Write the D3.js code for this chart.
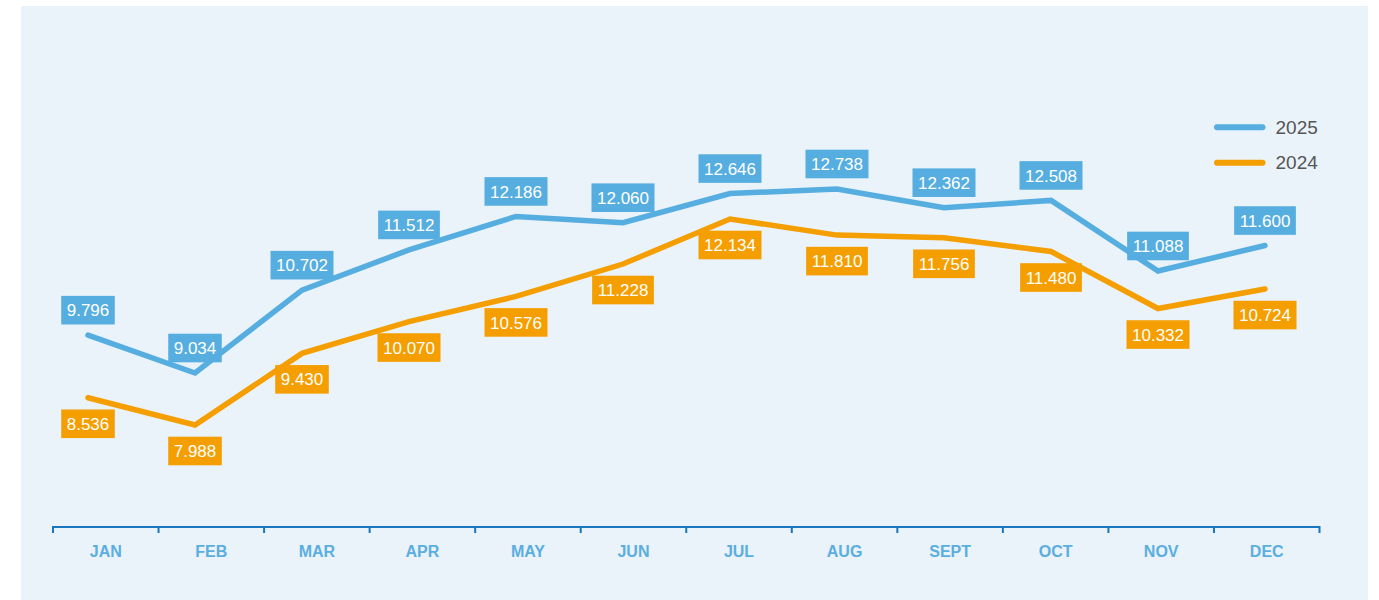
<!DOCTYPE html>
<html>
<head>
<meta charset="utf-8">
<script src="https://cdn.jsdelivr.net/npm/d3@7"></script>
<style>
  body { margin: 0; background: #fff; }
  svg { display: block; font-family: "Liberation Sans", Arial, sans-serif; }
</style>
</head>
<body>
<div id="graphic"></div>
<script>
// month labels + the two yearly series
const months = ['JAN', 'FEB', 'MAR', 'APR', 'MAY', 'JUN', 'JUL', 'AUG', 'SEPT', 'OCT', 'NOV', 'DEC'];
const values2025 = [9.796, 9.034, 10.702, 11.512, 12.186, 12.060, 12.646, 12.738, 12.362, 12.508, 11.088, 11.600];
const values2024 = [8.536, 7.988, 9.430, 10.070, 10.576, 11.228, 12.134, 11.810, 11.756, 11.480, 10.332, 10.724];
const seriesNames = ['2025', '2024'];

(function () {
  var width = 1379;
  var height = 600;

  var blue = '#56aee0';
  var orange = '#f59e00';

  var svg = d3.select('#graphic')
    .append('svg')
    .attr('width', width)
    .attr('height', height);

  // light panel behind everything
  svg.append('rect')
    .attr('x', 21)
    .attr('y', 6)
    .attr('width', 1347)
    .attr('height', 594)
    .attr('fill', '#eaf2fa');

  // bands for the axis, points for the lines (they are not aligned in the original)
  var band = d3.scaleBand()
    .domain(months)
    .range([53, 1319.5]);

  var x = d3.scalePoint()
    .domain(months)
    .range([88, 1265]);

  var y = d3.scaleLinear()
    .domain([7.988, 12.738])
    .range([425, 189]);

  var fmt = d3.format('.3f');

  var series = [
    { name: seriesNames[0], values: values2025, color: blue, dy: -25 },
    { name: seriesNames[1], values: values2024, color: orange, dy: 26 }
  ];

  // axis: base line, ticks at band edges, labels at band centres
  var axisY = 527;
  var axis = svg.append('g').attr('class', 'axis');
  var edges = months.map(d => band(d)).concat([band.range()[1]]);

  axis.append('path')
    .attr('d', 'M' + edges[0] + ',' + (axisY + 6) + 'V' + axisY + 'H' + edges[edges.length - 1] + 'V' + (axisY + 6))
    .attr('fill', 'none')
    .attr('stroke', '#1a76bc')
    .attr('stroke-width', 2);

  axis.selectAll('line')
    .data(edges.slice(1, -1))
    .enter().append('line')
    .attr('x1', d => d)
    .attr('x2', d => d)
    .attr('y1', axisY)
    .attr('y2', axisY + 6)
    .attr('stroke', '#1a76bc')
    .attr('stroke-width', 2);

  axis.selectAll('text')
    .data(months)
    .enter().append('text')
    .attr('x', d => band(d) + band.bandwidth() / 2)
    .attr('y', 557)
    .attr('text-anchor', 'middle')
    .attr('font-size', 16)
    .attr('font-weight', 'bold')
    .attr('fill', '#5aaee0')
    .text(d => d);

  var line = d3.line()
    .x((d, i) => x(months[i]))
    .y(d => y(d));

  // draw 2024 first so 2025 sits on top
  series.slice().reverse().forEach(s => {
    svg.append('path')
      .datum(s.values)
      .attr('d', line)
      .attr('fill', 'none')
      .attr('stroke', s.color)
      .attr('stroke-width', 5.5)
      .attr('stroke-linecap', 'round');
  });

  // value boxes
  series.forEach(s => {
    var g = svg.append('g').selectAll('g')
      .data(s.values)
      .enter().append('g')
      .attr('transform', (d, i) => 'translate(' + x(months[i]) + ',' + (y(d) + s.dy) + ')');

    var rects = g.append('rect')
      .attr('fill', s.color);

    var texts = g.append('text')
      .attr('text-anchor', 'middle')
      .attr('dy', '0.36em')
      .attr('font-size', 17)
      .attr('fill', '#fff')
      .text(d => fmt(d));

    texts.each(function () {
      var w = this.getComputedTextLength();
      d3.select(this.parentNode).select('rect')
        .attr('x', -w / 2 - 5.5)
        .attr('y', -14.3)
        .attr('width', w + 11)
        .attr('height', 28.6);
    });
  });

  // legend
  var legend = svg.append('g').selectAll('g')
    .data(series)
    .enter().append('g')
    .attr('transform', (d, i) => 'translate(1217,' + (127.3 + i * 35.4) + ')');

  legend.append('line')
    .attr('x1', 0)
    .attr('x2', 45.5)
    .attr('stroke', d => d.color)
    .attr('stroke-width', 6)
    .attr('stroke-linecap', 'round');

  legend.append('text')
    .attr('x', 58.5)
    .attr('dy', '0.35em')
    .attr('font-size', 19)
    .attr('fill', '#555')
    .text(d => d.name);
})();
</script>
</body>
</html>
